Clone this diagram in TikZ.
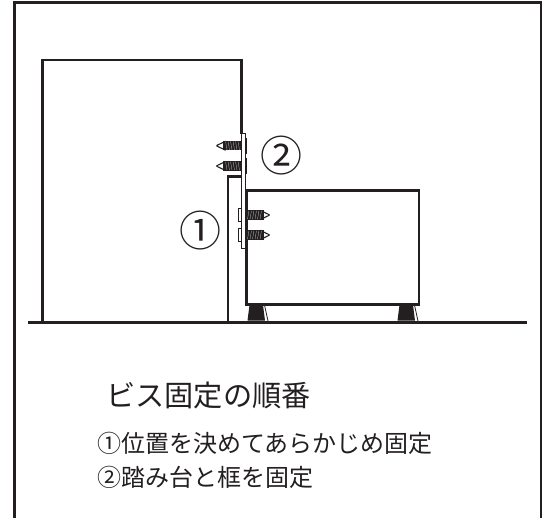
\documentclass[tikz,border=0pt]{standalone}
\usepackage{fontspec}
\newfontfamily\cjk{Noto Sans CJK JP}
\definecolor{ink}{HTML}{231F20}
\tikzset{
 x=0.75pt,y=-0.75pt,
 thick line/.style={draw=ink,line width=2.5pt*0.75,line join=miter},
 tab/.style={draw=ink,fill=white,line width=1pt*0.75},
 title text/.style={font=\cjk\fontsize{21.9pt}{24pt}\selectfont,text=ink,anchor=west,inner sep=0pt},
 body text/.style={font=\cjk\fontsize{18pt}{20pt}\selectfont,text=ink,anchor=west,inner sep=0pt},
 num text/.style={font=\cjk\fontsize{31.5pt}{34pt}\selectfont,text=ink,inner sep=0pt},
 foot/.style={fill=ink},
 thread/.style={draw=white!75!ink,line width=0.22pt},
 screw tip/.style={fill=white,draw=ink,line width=1.1pt*0.75,line join=miter},
}
\newcommand{\threads}{%
 \foreach \t in {1.5,4,...,16} {\draw[thread] (\t,4.2) -- (\t+1.4,-4.2);}}
\newcommand{\screwL}[1]{%
 \begin{scope}[shift={(241,#1)},xscale=-1]
  \draw[screw tip] (16,-4.2) -- (24,-0.4) -- (24,0.4) -- (16,4.2) -- cycle;
  \fill[ink] (0,-4.6) -- (18,-4.6) -- (18,4.6) -- (0,4.6) -- cycle;
  \threads
 \end{scope}}
\newcommand{\screwR}[1]{%
 \begin{scope}[shift={(246,#1)}]
  \draw[screw tip] (15,-4.2) -- (23,-0.4) -- (23,0.4) -- (15,4.2) -- cycle;
  \fill[ink] (0,-4.6) -- (17.5,-4.6) -- (17.5,4.6) -- (0,4.6) -- cycle;
  \threads
 \end{scope}}
\begin{document}
\begin{tikzpicture}
\useasboundingbox (0,0) rectangle (551,518);
% outer frame
\coordinate (f1) at (14.5,518);
\coordinate (f2) at (14.5,2.5);
\coordinate (f3) at (541,2.5);
\coordinate (f4) at (541,518);
\draw[thick line] (f1) -- (f2) -- (f3) -- (f4);
% door frame
\coordinate (d1) at (42.5,322);
\coordinate (d2) at (42.5,60);
\coordinate (d3) at (241.7,60);
\coordinate (d4) at (241.7,134);
\draw[thick line] (d1) -- (d2) -- (d3) -- (d4);
% frame post
\coordinate (p1) at (228,322);
\coordinate (p2) at (228,176.5);
\coordinate (p3) at (241.7,176.5);
\draw[thick line] (p1) -- (p2) -- (p3);
% step box
\draw[thick line] (246.7,190.7) rectangle (419,304.5);
% plate and tabs
\draw[tab] (241.7,133.5) rectangle (245,248);
\draw[tab] (245,138) rectangle (246.9,153);
\draw[tab] (245,158) rectangle (246.9,173);
\draw[tab] (238.3,208) rectangle (241.7,221);
\draw[tab] (238.3,228) rectangle (241.7,241);
% screws
\screwL{145.7}
\screwL{166}
\screwR{215}
\screwR{235}
% feet
\fill[foot] (249.5,305) -- (263,305) -- (265,320.5) -- (247.5,320.5) -- cycle;
\draw[ink,line width=0.6pt] (264.5,305) -- (268,321);
\fill[foot] (399.5,305) -- (413,305) -- (415,320.5) -- (397.5,320.5) -- cycle;
\draw[ink,line width=0.6pt] (414.5,305) -- (418,321);
% floor
\coordinate (g1) at (28,322.5);
\coordinate (g2) at (527,322.5);
\draw[thick line] (g1) -- (g2);
% labels
\node[num text] (n2) at (281.7,155.5) {②};
\node[num text] (n1) at (200,231) {①};
\node[title text] (t0) at (106,395) {ビス固定の順番};
\node[body text] (t1) at (97,443) {①位置を決めてあらかじめ固定};
\node[body text] (t2) at (97,477) {②踏み台と框を固定};
\end{tikzpicture}
\end{document}
